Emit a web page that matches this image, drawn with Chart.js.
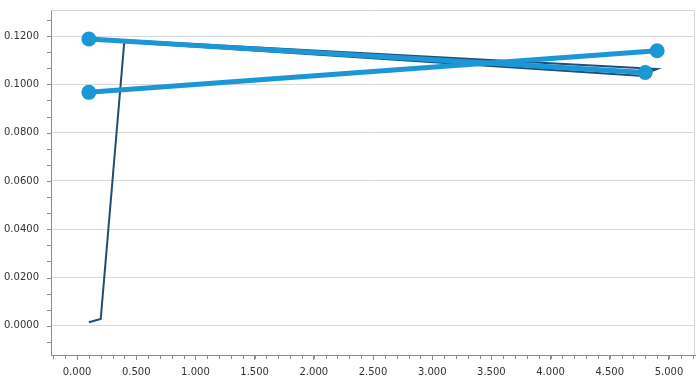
<!DOCTYPE html>
<html lang="en">
<head>
  <meta charset="UTF-8" />
  <title>Chart</title>
  <script src="https://cdn.jsdelivr.net/npm/chart.js"></script>
  <style>
    html, body { margin: 0; padding: 0; background: #fff; }
    #wrap { width: 697px; height: 385px; }
  </style>
</head>
<body>
  <div id="wrap"><canvas id="lineChart"></canvas></div>

  <script>
    // thin dark series
    const darkX = [0.1, 0.2, 0.4, 4.9, 4.75, 0.4];
    const darkY = [0.0015, 0.0028, 0.1182, 0.1064, 0.1036, 0.1175];
    // thick blue series (two separate strokes)
    const blueAX = [0.1, 4.8];
    const blueAY = [0.1188, 0.1049];
    const blueBX = [0.1, 4.9];
    const blueBY = [0.0967, 0.1139];

    const xTicks = [0, 0.5, 1, 1.5, 2, 2.5, 3, 3.5, 4, 4.5, 5];
    const yTicks = [0, 0.02, 0.04, 0.06, 0.08, 0.1, 0.12];

    const toPoints = (xs, ys) => xs.map((x, i) => ({ x: x, y: ys[i] }));

    const blue = "#1b96d6";
    const navy = "#1d4f78";

    // no label overflow padding, the plot box is fixed
    const noPad = s => {
      s.paddingTop = 0; s.paddingBottom = 0;
      s.paddingLeft = 0; s.paddingRight = 0;
    };

    // small minor tick marks along both axes
    const minorTicks = {
      id: "minorTicks",
      afterDraw(chart) {
        const ctx = chart.ctx;
        const xs = chart.scales.x, ys = chart.scales.y;
        const area = chart.chartArea;
        ctx.save();
        ctx.strokeStyle = "#8c8c8c";
        ctx.lineWidth = 1;
        ctx.beginPath();
        for (let v = -0.2; v <= 5.2001; v += 0.1) {
          const px = Math.round(xs.getPixelForValue(v)) + 0.5;
          if (px < area.left || px > area.right) continue;
          ctx.moveTo(px, area.bottom);
          ctx.lineTo(px, area.bottom + 4);
        }
        const step = 0.02 / 3;
        for (let k = -2; k <= 20; k++) {
          const py = Math.round(ys.getPixelForValue(k * step)) + 0.5;
          if (py < area.top || py > area.bottom) continue;
          ctx.moveTo(area.left - 4, py);
          ctx.lineTo(area.left, py);
        }
        ctx.stroke();
        // plot frame (top/right)
        ctx.strokeStyle = "#d4d4d4";
        ctx.beginPath();
        ctx.moveTo(area.left, area.top + 0.5);
        ctx.lineTo(area.right - 0.5, area.top + 0.5);
        ctx.lineTo(area.right - 0.5, area.bottom);
        ctx.stroke();
        ctx.restore();
      }
    };

    new Chart(document.getElementById("lineChart"), {
      type: "line",
      data: {
        datasets: [
          {
            data: toPoints(blueAX, blueAY),
            borderColor: blue,
            backgroundColor: blue,
            borderWidth: 5,
            pointRadius: 7.5,
            pointHoverRadius: 7.5,
            pointBorderWidth: 0,
            tension: 0,
            order: 0
          },
          {
            data: toPoints(blueBX, blueBY),
            borderColor: blue,
            backgroundColor: blue,
            borderWidth: 5,
            pointRadius: 7.5,
            pointHoverRadius: 7.5,
            pointBorderWidth: 0,
            tension: 0,
            order: 0
          },
          {
            data: toPoints(darkX, darkY),
            borderColor: navy,
            backgroundColor: navy,
            borderWidth: 2,
            pointRadius: 0,
            tension: 0,
            order: 1
          }
        ]
      },
      options: {
        responsive: true,
        maintainAspectRatio: false,
        animation: false,
        layout: { autoPadding: false, padding: { top: 10, right: 2, left: 0, bottom: 0 } },
        plugins: { legend: { display: false }, tooltip: { enabled: false } },
        scales: {
          x: {
            type: "linear",
            min: -0.22,
            max: 5.22,
            afterBuildTicks: s => { s.ticks = xTicks.map(v => ({ value: v })); },
            afterFit: s => { s.height = 30; noPad(s); },
            border: { color: "#8c8c8c" },
            grid: { drawOnChartArea: false, drawTicks: true, tickLength: 5, color: "#8c8c8c" },
            ticks: {
              color: "#333",
              font: { family: "DejaVu Sans", size: 10 },
              padding: 6,
              maxRotation: 0,
              callback: v => Number(v).toFixed(3)
            }
          },
          y: {
            type: "linear",
            min: -0.0121,
            max: 0.1308,
            afterBuildTicks: s => { s.ticks = yTicks.map(v => ({ value: v })); },
            afterFit: s => { s.width = 51; noPad(s); },
            border: { color: "#8c8c8c" },
            grid: { drawTicks: false, color: "#d9d9d9" },
            ticks: {
              color: "#333",
              font: { family: "DejaVu Sans", size: 10 },
              padding: 12,
              callback: v => Number(v).toFixed(4)
            }
          }
        }
      },
      plugins: [minorTicks]
    });
  </script>
</body>
</html>
